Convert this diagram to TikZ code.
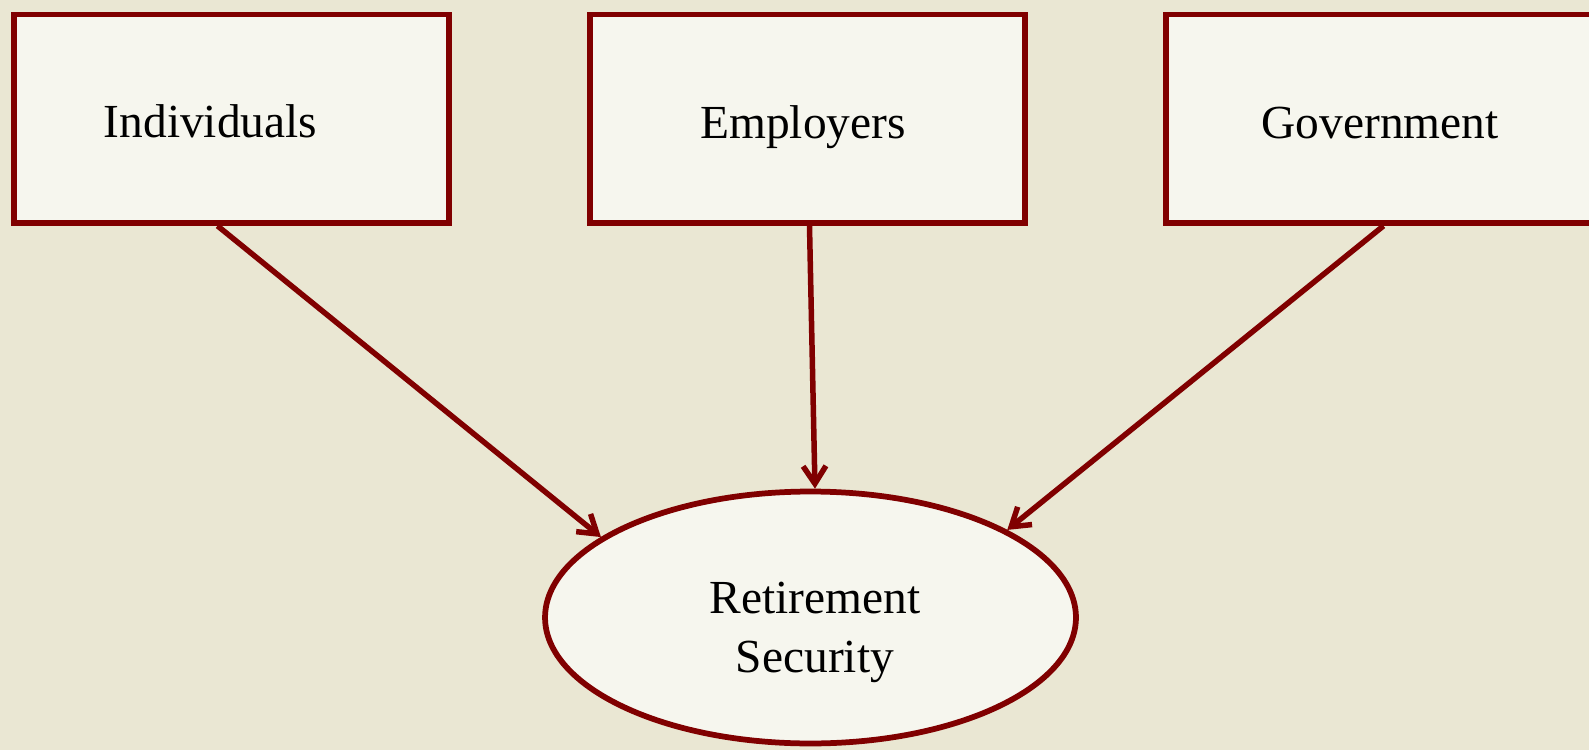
\documentclass[tikz,border=0pt]{standalone}
\usepackage{fontspec}
\setmainfont{Liberation Serif}
\usepackage{tikz}
\usetikzlibrary{arrows.meta,shapes.geometric,calc}
\definecolor{paper}{HTML}{EAE7D3}
\definecolor{boxfill}{HTML}{F6F6EE}
\definecolor{maroon}{HTML}{800000}
\tikzset{
  srcbox/.style={rectangle,draw=maroon,fill=boxfill,line width=0.115cm,
    minimum width=8.7cm,minimum height=4.17cm,inner sep=0pt},
  goaloval/.style={ellipse,draw=maroon,fill=boxfill,line width=0.115cm,
    minimum width=10.62cm,minimum height=5.04cm,inner sep=0pt},
  lbl/.style={font=\fontsize{27}{33.6}\selectfont,inner sep=0pt},
  flowline/.style={draw=maroon,line width=0.11cm,->},
  >={Straight Barb[length=10pt,width=13pt]}
}

\begin{document}
\begin{tikzpicture}[x=0.02cm,y=-0.02cm]
      \fill[paper] (0,0) rectangle (1589,750);
      \useasboundingbox (0,0) rectangle (1589,750);
      % the three sources
      \node[srcbox] (ind) at (231.5,118.75) {};
      \node[srcbox] (emp) at (807.5,118.75) {};
      \node[srcbox] (gov) at (1383.5,118.75) {};
      \node[lbl,anchor=base] (indtxt) at (210.5,137) {Individuals};
      \node[lbl,anchor=base] (emptxt) at (803,138) {Employers};
      \node[lbl,anchor=base] (govtxt) at (1380,138) {Government};
      % the goal
      \node[goaloval] (ret) at (810.5,617.5) {};
      \node[lbl,align=center] (rettxt) at (815,632) {Retirement\\Security};
      % arrows
      \draw[flowline] ($(ind.south)+(-14,0)$) -- (ret.159);
      \draw[flowline] ($(emp.south)+(2,0)$) -- (ret.88.5);
      \draw[flowline] (gov.south) -- (ret.24);
\end{tikzpicture}
\end{document}
